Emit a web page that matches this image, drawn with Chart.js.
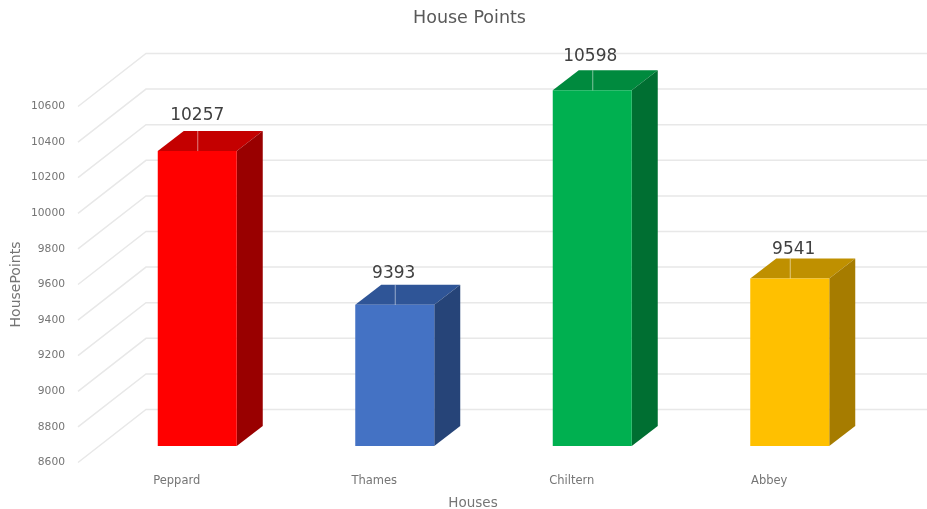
<!DOCTYPE html>
<html>
<head>
<meta charset="utf-8">
<title>House Points</title>
<script src="https://cdn.jsdelivr.net/npm/chart.js@4/dist/chart.umd.js"></script>
<style>
  html, body { margin: 0; background: #fff; }
  #wrap { width: 927px; height: 509px; }
</style>
</head>
<body>
<div id="wrap"><canvas id="housePointsChart"></canvas></div>
<script>
const houses = ['Peppard', 'Thames', 'Chiltern', 'Abbey'];
const housePoints = [10257, 9393, 10598, 9541];

const frontColours = ['#ff0000', '#4472c4', '#00b050', '#ffc000'];
const topColours = ['#c40000', '#2f5597', '#008a3e', '#bf9000'];
const sideColours = ['#990000', '#264478', '#006f32', '#a67c00'];

// value labels don't sit at the same spot on each bar, nudges in px from bar centre / top
const labelNudgeX = [0, -1, -2, 4];
const labelNudgeY = [-35, -31, -34, -29];

// fake 3D: the scales are the front plane, bars sit part way into the depth
const wallDepth = { x: 68, y: 53 };
const barOffset = { x: 20.5, y: 16.5 };
const barDepth = { x: 26, y: 20 };

function poly(ctx, colour, pts) {
  ctx.fillStyle = colour;
  ctx.beginPath();
  pts.forEach((p, i) => (i ? ctx.lineTo(p[0], p[1]) : ctx.moveTo(p[0], p[1])));
  ctx.closePath();
  ctx.fill();
}

const depthPlugin = {
  id: 'depth',
  afterLayout(chart) {
    // title sits a little left of the plot centre
    chart.titleBlock.left -= 7;
  },
  beforeDatasetsDraw(chart) {
    const { ctx, chartArea, scales } = chart;

    // side wall + back wall lines
    ctx.save();
    ctx.strokeStyle = '#e8e8e8';
    ctx.lineWidth = 1.5;
    scales.y.ticks.forEach(t => {
      const py = scales.y.getPixelForValue(t.value);
      ctx.beginPath();
      ctx.moveTo(chartArea.left, py);
      ctx.lineTo(chartArea.left + wallDepth.x, py - wallDepth.y);
      ctx.lineTo(chart.width, py - wallDepth.y);
      ctx.stroke();
    });
    ctx.restore();

    // datasets get drawn shifted back, restored in afterDatasetsDraw
    ctx.save();
    ctx.translate(barOffset.x, -barOffset.y);

    const b = scales.y.getPixelForValue(scales.y.min);
    chart.getDatasetMeta(0).data.forEach((bar, i) => {
      const l = bar.x - bar.width / 2;
      const r = bar.x + bar.width / 2;
      const t = bar.y;
      poly(ctx, topColours[i], [[l, t], [r, t], [r + barDepth.x, t - barDepth.y], [l + barDepth.x, t - barDepth.y]]);
      poly(ctx, sideColours[i], [[r, t], [r + barDepth.x, t - barDepth.y], [r + barDepth.x, b - barDepth.y], [r, b]]);
    });
  },
  afterDatasetsDraw(chart) {
    const { ctx } = chart;

    // leader lines and value labels
    chart.getDatasetMeta(0).data.forEach((bar, i) => {
      ctx.strokeStyle = 'rgba(255, 255, 255, 0.5)';
      ctx.lineWidth = 1;
      ctx.beginPath();
      ctx.moveTo(bar.x + 0.5, bar.y);
      ctx.lineTo(bar.x + 0.5, bar.y - barDepth.y);
      ctx.stroke();

      ctx.fillStyle = '#404040';
      ctx.font = '17px "DejaVu Sans"';
      ctx.textAlign = 'center';
      ctx.textBaseline = 'middle';
      ctx.fillText(String(housePoints[i]), bar.x + labelNudgeX[i], bar.y + labelNudgeY[i]);
    });
    ctx.restore();
  }
};

Chart.defaults.font.family = '"DejaVu Sans"';

new Chart(document.getElementById('housePointsChart'), {
  type: 'bar',
  data: {
    labels: houses,
    datasets: [{
      label: 'House Points',
      data: housePoints,
      backgroundColor: frontColours,
      borderWidth: 0,
      barPercentage: 0.4,
      categoryPercentage: 1
    }]
  },
  options: {
    responsive: true,
    maintainAspectRatio: false,
    animation: false,
    layout: { padding: { left: 8, right: 59, top: 0, bottom: 0 } },
    plugins: {
      legend: { display: false },
      tooltip: { enabled: false },
      title: {
        display: true,
        text: 'House Points',
        fullSize: false,
        color: '#595959',
        font: { size: 17.5, weight: 'normal' },
        padding: { top: 8, bottom: 77.5 }
      }
    },
    scales: {
      x: {
        grid: { display: false },
        border: { display: false },
        ticks: {
          color: '#757575',
          font: { size: 11.5 },
          padding: 4,
          maxRotation: 0
        },
        title: {
          display: true,
          text: 'Houses',
          color: '#757575',
          font: { size: 13.5, lineHeight: 1 },
          padding: { top: 0, bottom: -1.5 }
        },
        afterFit(scale) { scale.height = 46.5; }
      },
      y: {
        min: 8600,
        max: 10600,
        grid: { display: false },
        border: { display: false },
        ticks: {
          stepSize: 200,
          color: '#757575',
          font: { size: 10.7 },
          padding: 5,
          callback: v => String(v)
        },
        title: {
          display: true,
          text: 'HousePoints',
          color: '#757575',
          font: { size: 14 },
          padding: 0
        },
        afterFit(scale) { scale.width = 70; }
      }
    }
  },
  plugins: [depthPlugin]
});
</script>
</body>
</html>
